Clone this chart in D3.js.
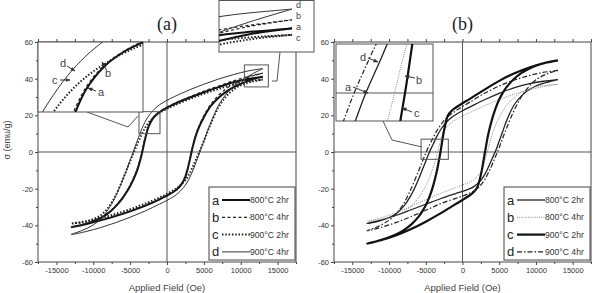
<!DOCTYPE html>
<html>
<head>
<meta charset="utf-8">
<script src="https://cdnjs.cloudflare.com/ajax/libs/d3/7.8.5/d3.min.js"></script>
<style>
    body { margin: 0; background: #fff; }
    svg { display: block; font-family: "Liberation Sans", Arial, sans-serif; }
    .axis .tick text { fill: #333; font-size: 7.5px; }
    .axis .tick line { stroke: #444; }
    .axis path.domain { display: none; }
</style>
</head>
<body>
<svg id="chart" width="595" height="293"></svg>
<script>
// field grid, upper branch goes down from +13000, lower branch goes back up
var fieldDown = [13000, 11000, 9000, 7000, 5000, 3000, 1000, 0, -1000, -1500, -2000, -2500, -3000, -3500, -4000, -4500, -5000, -5500, -6000, -7000, -8000, -9000, -10000, -11500, -13000];
var fieldUp = [-13000, -11000, -9000, -7000, -5000, -3000, -1000, 0, 1000, 1500, 2000, 2500, 3000, 3500, 4000, 4500, 5000, 5500, 6000, 7000, 8000, 9000, 10000, 11500, 13000];

var seriesKeys = ["a", "b", "c", "d"];
var legendText = ["800\u00B0C 2hr", "800\u00B0C 4hr", "900\u00B0C 2hr", "900\u00B0C 4hr"];
var xTicks = [-15000, -10000, -5000, 0, 5000, 10000, 15000];
var xMinorTicks = [-17500, -12500, -7500, -2500, 2500, 7500, 12500, 17500];
var yTicks = [-60, -40, -20, 0, 20, 40, 60];
var yMinorTicks = [-50, -30, -10, 10, 30, 50];

// panel (a)
var upA_a = [41, 39.8, 38, 35.4, 32.6, 29.6, 26.2, 24.2, 21.8, 20.2, 17.8, 13.8, 6.5, -2.5, -9.5, -14.5, -18.5, -22, -25, -29.8, -33.5, -36, -37.8, -39.8, -41];
var lowA_a = [-41, -39.4, -37.3, -35, -32.4, -29.4, -25.8, -23.8, -21.4, -19.8, -17.4, -13.4, -6, 3, 10, 15, 19, 22.5, 25.4, 29.6, 32.8, 35.2, 37.2, 39.6, 41];
var upA_b = [43, 41.2, 38.8, 36, 33.2, 30, 26.5, 24.5, 22, 20.3, 18, 14.2, 7.5, -1.5, -8.5, -13.8, -18, -21.6, -24.6, -29.5, -33.2, -35.8, -37.6, -39.6, -41];
var lowA_b = [-41, -39.2, -37, -34.6, -32, -29, -25.6, -23.5, -21.2, -19.5, -17.2, -13, -5.5, 3.5, 10.5, 15.6, 19.8, 23.4, 26.4, 31, 34.4, 37, 39, 41.4, 43];
var upA_c = [39.5, 38.6, 36.8, 34.4, 31.8, 28.8, 25.5, 23.6, 21.4, 20, 18.2, 16, 13, 9, 4.5, 0, -5, -10, -15, -24, -30.5, -34.5, -36.6, -38.4, -39];
var lowA_c = [-39, -37.8, -36, -33.8, -31.2, -28.2, -24.8, -22.8, -20.6, -19.2, -17.4, -15.2, -12.2, -8, -3.5, 1, 6, 11, 16, 24.5, 30.2, 34, 36.4, 38.4, 39.5];
var upA_d = [45.5, 44.2, 42.2, 39.8, 37, 33.8, 30.2, 28.2, 25.8, 24.2, 22.2, 19.6, 16.2, 11.8, 6.5, 1, -4.5, -10, -15, -24.5, -31.5, -36.5, -39.8, -42.8, -45];
var lowA_d = [-45, -43.4, -41.2, -38.6, -35.6, -32.2, -28.4, -26.4, -24, -22.5, -20.5, -18, -14.6, -10.2, -5, 0.5, 6, 11.5, 16.5, 25.5, 31.5, 35.8, 38.8, 42.4, 45.5];

// panel (b)
var upB_a = [39.5, 38.6, 37.2, 35, 32, 28.5, 24.5, 22.5, 20.2, 18.8, 17, 14.8, 12, 8.5, 4.2, 0, -5, -10, -15, -23.5, -29.5, -33.5, -35.8, -37.8, -39];
var lowB_a = [-39, -37, -34.5, -31.5, -28.5, -25.5, -22.8, -21.5, -20, -19, -17.5, -15.5, -12.5, -8.5, -4, 0.5, 6, 11.5, 17, 25.5, 30.5, 33.8, 36, 38, 39.5];
var upB_b = [37, 35.6, 33.8, 31.5, 28.6, 25.2, 21.5, 19.6, 17.4, 16, 14.2, 11.6, 6, -1.5, -8.5, -14, -18.5, -22, -25, -29.5, -32.5, -34.5, -35.8, -37, -38];
var lowB_b = [-38, -35.8, -33, -29.6, -26, -22.6, -19.5, -18, -16.4, -15.2, -13.5, -10.8, -5.5, 2, 9, 14.5, 19, 22.5, 25.4, 29.6, 32.5, 34.3, 35.5, 36.4, 37];
var upB_c = [50, 48.4, 46, 42.8, 38.8, 34, 29, 26.6, 24, 22.4, 19.8, 12, 0, -10.5, -18.5, -24.5, -29, -32.5, -35.4, -39.6, -42.6, -44.8, -46.5, -48.4, -50];
var lowB_c = [-50, -48, -45.4, -42, -38, -33.5, -28.6, -26.2, -23.6, -22, -19.4, -12.5, -1.5, 9.5, 17.5, 23.8, 28.6, 32.4, 35.4, 39.8, 43, 45.3, 47, 48.8, 50];
var upB_d = [44.5, 43.4, 41.6, 39.2, 36, 32, 27.2, 24.8, 22.2, 20.8, 19.2, 17.2, 14.6, 11.5, 7.8, 3.8, -0.5, -5.5, -10.5, -20, -28, -33.5, -37.2, -40.6, -43];
var lowB_d = [-43, -41, -38.4, -35.2, -31.8, -28.2, -25.4, -24, -22.4, -21.4, -20, -18, -15.2, -11.5, -7.2, -2.5, 2.5, 7.8, 13, 22.5, 30, 35.5, 39.4, 42.6, 44.5];

var svg = d3.select("#chart");

svg.append("defs").append("marker")
    .attr("id", "arrow")
    .attr("viewBox", "0 0 10 10")
    .attr("refX", 9).attr("refY", 5)
    .attr("markerWidth", 5).attr("markerHeight", 5)
    .attr("orient", "auto")
    .append("path")
    .attr("d", "M0,1L10,5L0,9Z")
    .attr("fill", "#333");

// join one branch pair into a single loop
function loopPoints(up, low) {
    var pts = fieldDown.map(function (h, i) { return [h, up[i]]; });
    fieldUp.forEach(function (h, i) {
        if (i > 0) pts.push([h, low[i]]);
    });
    return pts;
}

function drawLoops(g, loops, styles, x, y) {
    var line = d3.line()
        .x(function (d) { return x(d[0]); })
        .y(function (d) { return y(d[1]); })
        .curve(d3.curveCatmullRom.alpha(0.5));
    seriesKeys.forEach(function (k) {
        var s = styles[k];
        g.append("path")
            .attr("d", line(loops[k]))
            .attr("fill", "none")
            .attr("stroke", s.color)
            .attr("stroke-width", s.width)
            .attr("stroke-dasharray", s.dash);
    });
}

function drawPanel(p) {
    var x = d3.scaleLinear().domain([-17500, 17500]).range([p.left, p.right]);
    var y = d3.scaleLinear().domain([-60, 60]).range([262, 42]);
    var g = svg.append("g");

    // axes, ticks point outwards
    g.append("g").attr("class", "axis").attr("transform", "translate(0,262)")
        .call(d3.axisBottom(x).tickValues(xTicks).tickSize(3).tickPadding(3).tickFormat(String));
    g.append("g").attr("class", "axis").attr("transform", "translate(0,262)")
        .call(d3.axisBottom(x).tickValues(xMinorTicks).tickSize(2).tickFormat(""));
    g.append("g").attr("class", "axis").attr("transform", "translate(0,42)")
        .call(d3.axisTop(x).tickValues(xTicks.concat(xMinorTicks)).tickSize(3).tickFormat(""));
    g.append("g").attr("class", "axis").attr("transform", "translate(" + p.left + ",0)")
        .call(d3.axisLeft(y).tickValues(yTicks).tickSize(3).tickPadding(2).tickFormat(String));
    g.append("g").attr("class", "axis").attr("transform", "translate(" + p.left + ",0)")
        .call(d3.axisLeft(y).tickValues(yMinorTicks).tickSize(2).tickFormat(""));

    // frame and zero lines
    g.append("rect")
        .attr("x", p.left).attr("y", 42)
        .attr("width", p.right - p.left).attr("height", 220)
        .attr("fill", "none").attr("stroke", "#444");
    g.append("line")
        .attr("x1", x(0)).attr("x2", x(0)).attr("y1", 42).attr("y2", 262)
        .attr("stroke", "#555");
    g.append("line")
        .attr("x1", p.left).attr("x2", p.right).attr("y1", y(0)).attr("y2", y(0))
        .attr("stroke", "#555");

    drawLoops(g, p.loops, p.styles, x, y);

    // legend
    var lx = p.right - 87, ly = 187;
    g.append("rect")
        .attr("x", lx).attr("y", ly).attr("width", 86).attr("height", 73)
        .attr("fill", "#fff").attr("stroke", "#444");
    seriesKeys.forEach(function (k, i) {
        var cy = 200 + i * 17.3;
        var s = p.styles[k];
        g.append("text").attr("x", lx + 3).attr("y", cy + 4.5)
            .attr("font-size", 13).attr("fill", "#222").text(k);
        g.append("line")
            .attr("x1", lx + 13).attr("x2", lx + 41).attr("y1", cy).attr("y2", cy)
            .attr("stroke", s.color).attr("stroke-width", s.width)
            .attr("stroke-dasharray", s.dash);
        g.append("text").attr("x", lx + 41).attr("y", cy + 3)
            .attr("font-size", 8.6).attr("fill", "#333").text(legendText[i]);
    });

    // titles
    g.append("text")
        .attr("x", x(0)).attr("y", 30)
        .attr("text-anchor", "middle")
        .attr("font-family", "'Liberation Serif', 'Times New Roman', serif")
        .attr("font-size", 18).attr("fill", "#222")
        .text(p.title);
    g.append("text")
        .attr("x", (p.left + p.right) / 2).attr("y", 291)
        .attr("text-anchor", "middle")
        .attr("font-size", 9.5).attr("fill", "#444")
        .text("Applied Field (Oe)");
    if (p.yLabel) {
        g.append("text")
            .attr("transform", "translate(10,140) rotate(-90)")
            .attr("text-anchor", "middle")
            .attr("font-size", 9).attr("fill", "#444")
            .text("\u03C3 (emu/g)");
    }

    p.insets.forEach(function (inset, n) {
        drawInset(g, p, inset, x, y, n);
    });
}

function drawInset(g, p, inset, x, y, n) {
    var ix = d3.scaleLinear().domain(inset.field).range([inset.x0, inset.x1]);
    var iy = d3.scaleLinear().domain(inset.moment).range([inset.y1, inset.y0]);
    var id = p.title.replace(/\W/g, "") + n;

    // marked region on the main plot
    g.append("rect")
        .attr("x", x(inset.field[0])).attr("y", y(inset.moment[1]))
        .attr("width", x(inset.field[1]) - x(inset.field[0]))
        .attr("height", y(inset.moment[0]) - y(inset.moment[1]))
        .attr("fill", "none").attr("stroke", "#555");
    g.append("polyline")
        .attr("points", inset.connector.join(" "))
        .attr("fill", "none").attr("stroke", "#555");

    g.append("rect")
        .attr("x", inset.x0).attr("y", inset.y0)
        .attr("width", inset.x1 - inset.x0).attr("height", inset.y1 - inset.y0)
        .attr("fill", "#fff").attr("stroke", "#555");
    g.append("clipPath").attr("id", "clip" + id)
        .append("rect")
        .attr("x", inset.x0).attr("y", inset.y0)
        .attr("width", inset.x1 - inset.x0).attr("height", inset.y1 - inset.y0);
    var ig = g.append("g").attr("clip-path", "url(#clip" + id + ")");
    if (inset.moment[0] < 0 && inset.moment[1] > 0) {
        ig.append("line")
            .attr("x1", inset.x0).attr("x2", inset.x1).attr("y1", iy(0)).attr("y2", iy(0))
            .attr("stroke", "#555");
    }
    drawLoops(ig, p.loops, p.styles, ix, iy);

    inset.labels.forEach(function (l) {
        g.append("text").attr("x", l[1]).attr("y", l[2])
            .attr("font-size", inset.fontSize).attr("fill", "#444").text(l[0]);
        if (l.length > 3) {
            g.append("line")
                .attr("x1", l[3]).attr("y1", l[4]).attr("x2", l[5]).attr("y2", l[6])
                .attr("stroke", "#333").attr("marker-end", "url(#arrow)");
        }
    });
}

drawPanel({
    title: "(a)", left: 38, right: 296, yLabel: true,
    loops: {
        a: loopPoints(upA_a, lowA_a), b: loopPoints(upA_b, lowA_b),
        c: loopPoints(upA_c, lowA_c), d: loopPoints(upA_d, lowA_d)
    },
    styles: {
        a: {color: "#111", width: 2, dash: null},
        b: {color: "#222", width: 1.2, dash: "3,2.5"},
        c: {color: "#222", width: 2, dash: "1.5,1.8"},
        d: {color: "#333", width: 1, dash: null}
    },
    insets: [
        {x0: 38, x1: 143, y0: 42, y1: 112, field: [-3800, -950], moment: [10, 22],
            connector: [[87, 112], [128, 127], [138, 116]], fontSize: 11,
            labels: [["d", 60, 67, 67, 66, 75, 71], ["c", 52, 84, 60, 80, 70, 80],
                ["b", 105, 77, 106, 69, 102, 62], ["a", 98, 96, 96, 91, 88, 88]]},
        {x0: 219, x1: 314, y0: 0.5, y1: 52, field: [10500, 13750], moment: [35.5, 47.5],
            connector: [[272, 81], [277, 81], [280, 52]], fontSize: 9,
            labels: [["d", 296, 8], ["b", 296, 19], ["a", 296, 30], ["c", 296, 41]]}
    ]
});

drawPanel({
    title: "(b)", left: 334, right: 591, yLabel: false,
    loops: {
        a: loopPoints(upB_a, lowB_a), b: loopPoints(upB_b, lowB_b),
        c: loopPoints(upB_c, lowB_c), d: loopPoints(upB_d, lowB_d)
    },
    styles: {
        a: {color: "#222", width: 1.3, dash: null},
        b: {color: "#888", width: 1, dash: "1,1.2"},
        c: {color: "#111", width: 2.2, dash: null},
        d: {color: "#222", width: 1.2, dash: "5,2,1.5,2"}
    },
    insets: [
        {x0: 336, x1: 433, y0: 44, y1: 121, field: [-5640, -1930], moment: [-4, 7],
            connector: [[383, 121], [392, 140], [422, 147]], fontSize: 11,
            labels: [["d", 360, 61, 368, 58, 378, 62], ["a", 345, 91, 353, 87, 368, 93],
                ["b", 416, 84, 415, 78, 405, 76], ["c", 414, 117, 412, 112, 402, 108]]}
    ]
});
</script>
</body>
</html>
